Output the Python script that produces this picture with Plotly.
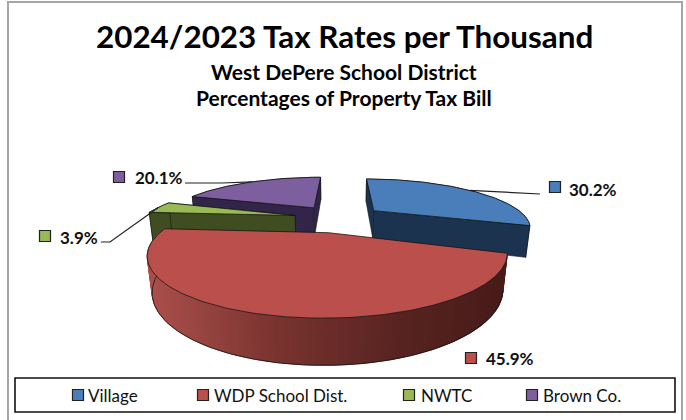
import numpy as np
import plotly.graph_objects as go

# Chart content
title = "2024/2023 Tax Rates per Thousand"
subtitles = ["West DePere School District", "Percentages of Property Tax Bill"]
categories = ["Village", "WDP School Dist.", "NWTC", "Brown Co."]
shares = [30.2, 45.9, 3.9, 20.1]

# Colours per slice: top face, side face
top_colors = ["#4a7ebb", "#bb4f4c", "#98b954", "#7d5fa0"]
side_colors = ["#1c3350", "#7a322f", "#3f4d20", "#33254a"]
red_side_ramp = [(0.0, (172, 80, 76)), (0.35, (122, 52, 48)), (0.7, (88, 36, 33)), (1.0, (72, 28, 26))]

# Camera and pie geometry (unit radius disc, pixel-valued axes)
CX, CY, FOCAL, DIST, PITCH = 338.63, 218.08, 460.75, 3.008, 0.3041
THICK, EXPLODE, ROTATION = 0.2119, 0.2957, 0.0081

# Where each share label sits: key square, text start, text centre line, leader elbow points
label_layout = [
    dict(key=(555, 187), text_x=567, text_y=189, leader=[(540, 194)]),
    dict(key=(471, 358), text_x=484, text_y=358, leader=None),
    dict(key=(45, 236), text_x=58, text_y=237, leader=[(101, 242), (110, 242)]),
    dict(key=(119, 177), text_x=133, text_y=177, leader=[(185, 183), (222, 183)]),
]
legend_layout = [(78, 86), (203, 212), (409, 419), (532, 541)]

spans = np.array(shares) / sum(shares) * 2 * np.pi
ends = np.cumsum(spans) + ROTATION
starts = ends - spans


def project(x, y, z):
    """Perspective view of a point on the pie; z is 0 on the top face."""
    depth = DIST + y * np.cos(PITCH) - z * np.sin(PITCH)
    return (CX + FOCAL * x / depth,
            CY - FOCAL * (y * np.sin(PITCH) + z * np.cos(PITCH)) / depth)


def slice_origin(i):
    mid = (starts[i] + ends[i]) / 2
    return EXPLODE * np.sin(mid), EXPLODE * np.cos(mid)


def rim_point(i, angle, z=0.0):
    ox, oy = slice_origin(i)
    return project(ox + np.sin(angle), oy + np.cos(angle), z)


def apex_point(i, z=0.0):
    ox, oy = slice_origin(i)
    return project(ox, oy, z)


def polygon(xs, ys, fill, line=None, width=0.8):
    return go.Scatter(
        x=list(xs), y=list(ys), mode="lines", fill="toself", fillcolor=fill,
        line=dict(color=line or fill, width=width if line else 0.4),
        hoverinfo="skip", showlegend=False,
    )


def path(xs, ys, color="#141414", width=0.8):
    return go.Scatter(x=list(xs), y=list(ys), mode="lines",
                      line=dict(color=color, width=width),
                      hoverinfo="skip", showlegend=False)


def ramp(t):
    for (t0, c0), (t1, c1) in zip(red_side_ramp, red_side_ramp[1:]):
        if t <= t1:
            u = (t - t0) / (t1 - t0)
            return "rgb({},{},{})".format(*[int(a + (b - a) * u) for a, b in zip(c0, c1)])
    return "rgb({},{},{})".format(*red_side_ramp[-1][1])


fig = go.Figure()

# Back-to-front: Brown Co., NWTC, Village, then the large front slice
for i in (3, 2, 0, 1):
    angles = np.linspace(starts[i], ends[i], 160)
    tx, ty = rim_point(i, angles)
    bx, by = rim_point(i, angles, -THICK)
    ax, ay = apex_point(i)
    abx, aby = apex_point(i, -THICK)

    if i == 1:
        # Curved side with a left-to-right shading ramp, walked around the rim
        lo, hi = tx.min(), tx.max()
        for k in range(len(angles) - 1, 1, -1):
            a, b = k, k - 2
            fig.add_trace(polygon(
                [tx[a], tx[b], bx[b], bx[a], tx[a]],
                [ty[a], ty[b], by[b], by[a], ty[a]],
                ramp((tx[a] - lo) / (hi - lo))))
        fig.add_trace(path(bx, by))
    else:
        fig.add_trace(polygon(
            np.r_[tx, bx[::-1], tx[0]], np.r_[ty, by[::-1], ty[0]],
            side_colors[i], line="#141414", width=0.6))
        for end in (0, -1):
            fig.add_trace(polygon(
                [ax, tx[end], bx[end], abx, ax],
                [ay, ty[end], by[end], aby, ay],
                side_colors[i], line="#141414", width=0.6))

    # Top face
    fig.add_trace(polygon(np.r_[ax, tx, ax], np.r_[ay, ty, ay],
                          top_colors[i], line="#141414", width=0.8))

# Share labels, their key squares and leader lines
annotations = []
for i, place in enumerate(label_layout):
    if place["leader"]:
        mx, my = rim_point(i, (starts[i] + ends[i]) / 2)
        pts = place["leader"] + [(float(mx), float(my))]
        fig.add_trace(path([p[0] for p in pts], [p[1] for p in pts], color="#222222", width=1.2))
    fig.add_trace(go.Scatter(
        x=[place["key"][0]], y=[place["key"][1]], mode="markers",
        marker=dict(symbol="square", size=11, color=top_colors[i], line=dict(color="#222222", width=1.2)),
        hoverinfo="skip", showlegend=False))
    annotations.append(dict(
        x=place["text_x"], y=place["text_y"], xref="x", yref="y", text=f"<b>{shares[i]:.1f}%</b>",
        showarrow=False, xanchor="left", yanchor="middle",
        font=dict(family="Lato", size=17, color="#111111")))

# Legend row
for i, (key_x, text_x) in enumerate(legend_layout):
    fig.add_trace(go.Scatter(
        x=[key_x], y=[395], mode="markers",
        marker=dict(symbol="square", size=11, color=top_colors[i], line=dict(color="#222222", width=1.2)),
        hoverinfo="skip", showlegend=False))
    annotations.append(dict(
        x=text_x, y=395, xref="x", yref="y", text=categories[i], showarrow=False,
        xanchor="left", yanchor="middle", font=dict(family="Lato", size=17, color="#111111")))

# Headings
annotations.append(dict(x=344, y=36, xref="x", yref="y", text=f"<b>{title}</b>", showarrow=False,
                        font=dict(family="Lato", size=31.4, color="#000000")))
for text, y in zip(subtitles, (71.5, 97.5)):
    annotations.append(dict(x=344, y=y, xref="x", yref="y", text=f"<b>{text}</b>", showarrow=False,
                            font=dict(family="Lato", size=21, color="#000000")))

fig.update_layout(
    width=686, height=420, margin=dict(l=0, r=0, t=0, b=0),
    paper_bgcolor="white", plot_bgcolor="white", showlegend=False,
    xaxis=dict(range=[0, 686], visible=False, fixedrange=True),
    yaxis=dict(range=[420, 0], visible=False, fixedrange=True),
    annotations=annotations,
    shapes=[
        dict(type="rect", xref="x", yref="y", x0=8, y0=2, x1=682, y1=426,
             line=dict(color="#a6a6a6", width=2), layer="below"),
        dict(type="rect", xref="x", yref="y", x0=15, y0=378, x1=675, y1=412,
             line=dict(color="#111111", width=1.6), layer="below"),
    ],
)

fig.write_html("out.html")
